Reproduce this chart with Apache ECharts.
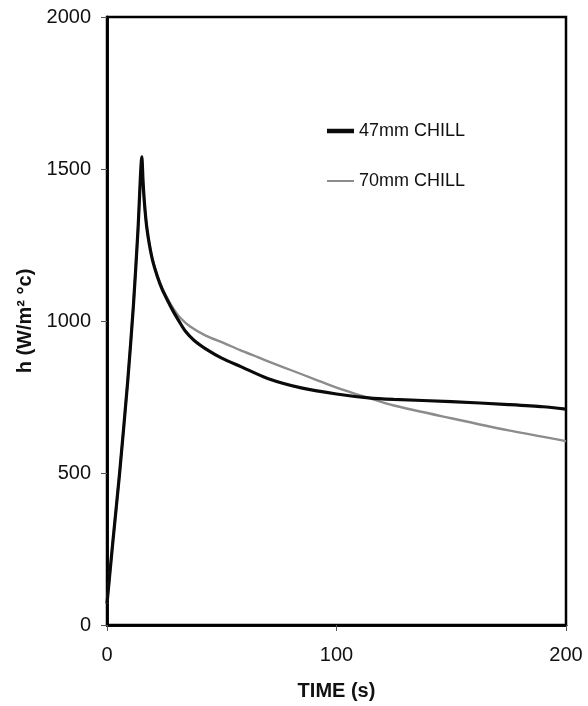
<!DOCTYPE html>
<html>
<head>
<meta charset="utf-8">
<script src="https://cdn.jsdelivr.net/npm/echarts@6/dist/echarts.min.js"></script>
<style>html,body{margin:0;padding:0;background:#fff}#c{width:588px;height:706px}</style>
</head>
<body>
<div id="c"></div>
<script>
var xTicks = [0, 100, 200];
var yTicks = [0, 500, 1000, 1500, 2000];
var seriesNames = ['47mm CHILL', '70mm CHILL'];
var time47 = [0, 2.5, 5.5, 9, 11.5, 13.5, 15.2, 15.7, 16.4, 17.3, 18.5, 20, 22, 24, 26.5, 29, 31.5, 34, 38, 43.7, 50, 58.3, 70, 84.6, 100, 114, 125, 150, 175, 190, 200];
var h47 = [70, 270, 500, 800, 1050, 1300, 1540, 1460, 1380, 1310, 1250, 1195, 1145, 1105, 1066, 1030, 998, 968, 936, 905, 878, 850, 811, 780, 760, 747, 742, 735, 725, 718, 710];
var time70 = [0, 2.5, 5.5, 9, 11.5, 13.5, 15.2, 15.7, 16.4, 17.3, 18.5, 20, 22, 24, 26.5, 29, 32, 36.4, 43, 51, 58, 65.7, 73, 80.3, 90, 100, 114, 125, 150, 175, 200];
var h70 = [70, 270, 500, 800, 1050, 1300, 1520, 1450, 1378, 1310, 1252, 1198, 1149, 1110, 1072, 1040, 1010, 981, 952, 927, 904, 881, 859, 838, 810, 781, 747, 722, 680, 640, 605];

function pairs(xs, ys) { return xs.map(function (x, i) { return [x, ys[i]]; }); }

var font = 'Liberation Sans, Arial, sans-serif';
var chart = echarts.init(document.getElementById('c'), null, {renderer: 'canvas'});
var baseX = {
  type: 'value', min: 0, max: 200, interval: 100,
  axisLine: {show: true, lineStyle: {color: '#000', width: 2.5}},
  splitLine: {show: false}
};
var baseY = {
  type: 'value', min: 0, max: 2000, interval: 500,
  axisLine: {show: true, lineStyle: {color: '#000', width: 2.5}},
  splitLine: {show: false}
};
chart.setOption({
  animation: false,
  backgroundColor: '#fff',
  grid: {left: 107, right: 22, top: 17, bottom: 81, show: true, borderColor: '#000', borderWidth: 2.5, containLabel: false},
  legend: [
    {left: 327, top: 121, padding: 0, data: [seriesNames[0]], icon: 'rect', itemWidth: 27, itemHeight: 4.5, itemGap: 4,
     textStyle: {fontFamily: font, fontSize: 18, color: '#111', lineHeight: 20}},
    {left: 327, top: 171, padding: 0, data: [seriesNames[1]], icon: 'rect', itemWidth: 27, itemHeight: 2, itemGap: 4,
     textStyle: {fontFamily: font, fontSize: 18, color: '#111', lineHeight: 20}}
  ],
  xAxis: [
    Object.assign({}, baseX, {
      name: 'TIME (s)', nameLocation: 'middle', nameGap: 56,
      nameTextStyle: {fontFamily: font, fontSize: 20, fontWeight: 'bold', color: '#111'},
      axisTick: {show: true, inside: false, length: 6, lineStyle: {color: '#555', width: 1}},
      axisLabel: {fontFamily: font, fontSize: 20, color: '#111', margin: 20,
        formatter: function (v) { return xTicks.indexOf(v) >= 0 ? String(v) : ''; }}
    }),
    Object.assign({}, baseX, {
      axisTick: {show: true, inside: true, length: 6, lineStyle: {color: '#555', width: 1}},
      axisLabel: {show: false}
    })
  ],
  yAxis: [
    Object.assign({}, baseY, {
      name: 'h (W/m² °c)', nameLocation: 'middle', nameGap: 72, nameRotate: 90,
      nameTextStyle: {fontFamily: font, fontSize: 20, fontWeight: 'bold', color: '#111'},
      axisTick: {show: true, inside: false, length: 6, lineStyle: {color: '#555', width: 1}},
      axisLabel: {fontFamily: font, fontSize: 20, color: '#111', margin: 16,
        formatter: function (v) { return yTicks.indexOf(v) >= 0 ? String(v) : ''; }}
    }),
    Object.assign({}, baseY, {
      axisTick: {show: true, inside: true, length: 6, lineStyle: {color: '#555', width: 1}},
      axisLabel: {show: false}
    })
  ],
  series: [
    {name: seriesNames[0], type: 'line', xAxisIndex: 0, yAxisIndex: 0, data: pairs(time47, h47),
     showSymbol: false, smooth: 0.25, color: '#0a0a0a', lineStyle: {color: '#0a0a0a', width: 3.2}, z: 3},
    {name: seriesNames[1], type: 'line', xAxisIndex: 0, yAxisIndex: 0, data: pairs(time70, h70),
     showSymbol: false, smooth: 0.25, color: '#8c8c8c', lineStyle: {color: '#8c8c8c', width: 2.4}, z: 2}
  ]
});
</script>
</body>
</html>
